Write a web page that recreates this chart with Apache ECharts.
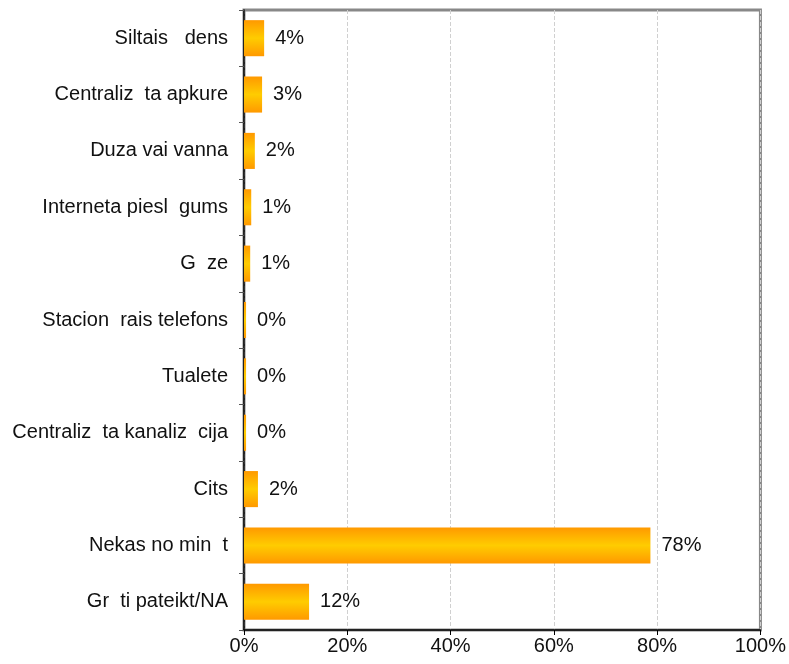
<!DOCTYPE html>
<html><head><meta charset="utf-8">
<script src="https://cdn.jsdelivr.net/npm/echarts@6/dist/echarts.min.js"></script>
<style>html,body{margin:0;padding:0;background:#fff}#c{width:789px;height:664px}</style>
</head><body><div id="c"></div>
<script>
const categories = ["Siltais   dens","Centraliz  ta apkure","Duza vai vanna","Interneta piesl  gums","G  ze","Stacion  rais telefons","Tualete","Centraliz  ta kanaliz  cija","Cits","Nekas no min  t","Gr  ti pateikt/NA"];
const values = [3.9, 3.5, 2.1, 1.4, 1.2, 0.4, 0.4, 0.4, 2.7, 78.7, 12.6];
const valueLabels = ["4%","3%","2%","1%","1%","0%","0%","0%","2%","78%","12%"];
const xTicks = [0,20,40,60,80,100];

const chart = echarts.init(document.getElementById('c'));
const font = 'Liberation Sans, Arial, sans-serif';
chart.setOption({
  animation:false,
  grid:{left:244,right:28,top:10,bottom:34,show:true,borderColor:'#888',borderWidth:3,backgroundColor:'#fff'},
  xAxis:{type:'value',min:0,max:100,interval:20,
    axisLine:{show:true,lineStyle:{color:'#000',width:1.5}},
    axisTick:{show:true,length:5,lineStyle:{color:'#000'}},
    axisLabel:{color:'#111',fontSize:20,fontFamily:font,margin:6,formatter:v=>v+'%'},
    splitLine:{show:true,lineStyle:{color:'#d0d0d0',type:'dashed',width:1}}},
  yAxis:{type:'category',data:categories,inverse:true,
    axisLine:{show:true,lineStyle:{color:'#000',width:1.5}},
    axisTick:{show:true,length:5,lineStyle:{color:'#555'}},
    axisLabel:{color:'#111',fontSize:20,fontFamily:font,margin:16}},
  series:[{type:'bar',data:values,barWidth:'64%',
    itemStyle:{color:new echarts.graphic.LinearGradient(0,0,0,1,[
      {offset:0,color:'#ff9900'},{offset:0.5,color:'#ffcc00'},{offset:1,color:'#ff9900'}])},
    label:{show:true,position:'right',distance:11,color:'#111',fontSize:20,fontFamily:font,
      formatter:p=>valueLabels[p.dataIndex]}}]
});
</script></body></html>
